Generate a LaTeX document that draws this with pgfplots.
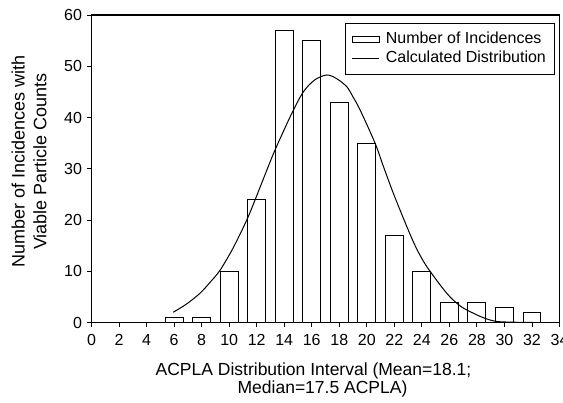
\documentclass[border=0pt]{standalone}
\usepackage{fontspec}
\setmainfont{Liberation Sans}
\usepackage{pgfplots}
\pgfplotsset{compat=1.18}
\begin{document}
\fontsize{16}{20}\selectfont
\begin{tikzpicture}
\begin{axis}[
  scale only axis, width=468pt, height=307.5pt,
  xmin=0, xmax=34, ymin=0, ymax=60,
  xtick={0,2,...,34}, ytick={0,10,...,60},
  tick align=outside, tick pos=left, major tick length=4pt,
  /pgf/number format/assume math mode=true,
  ticklabel style={font=\fontsize{16}{18}\selectfont},
  xticklabel style={yshift=-2pt},
  axis line style={line width=1.1pt},
  tick style={line width=0.9pt, black},
  xlabel={ACPLA Distribution Interval (Mean=18.1;\rule{18pt}{0pt}\\Median=17.5 ACPLA)},
  every axis x label/.style={at={(rel axis cs:0.5,0)}, anchor=north, inner sep=0pt,
    yshift=-40pt, xshift=-3pt, align=center, font=\fontsize{17.5}{18.5}\selectfont},
  ylabel={Number of Incidences with\\Viable Particle Counts},
  every axis y label/.style={at={(rel axis cs:-0.171,0.5236)}, anchor=north, rotate=90,
    inner sep=0pt, align=center, font=\fontsize{18}{21.6}\selectfont},
  legend style={at={(rel axis cs:0.991,0.975)}, anchor=north east, draw=black,
    line width=0.8pt, font=\fontsize{16}{18}\selectfont, inner xsep=7pt, inner ysep=7pt,
    row sep=1pt, column sep=4pt},
  legend cell align=left,
]
\addplot[ybar, bar width=1.3, fill=white, draw=black, line width=1pt,
  legend image code/.code={\draw[black, fill=white, line width=0.8pt] (0pt,-3pt) rectangle (27pt,3pt);}]
  coordinates {(6,1) (8,1) (10,10) (12,24) (14,57) (16,55) (18,43) (20,35)
    (22,17) (24,10) (26,4) (28,4) (30,3) (32,2)};
\addplot[smooth, black, line width=1pt, mark=none,
  legend image code/.code={\draw[black, line width=0.8pt] (0pt,0pt) -- (27pt,0pt);}]
  coordinates {(5.94,2.0) (6.9,3.6) (7.88,5.7) (8.6,7.8) (9.34,10.2) (10.3,14.6)
    (11.28,20.0) (11.88,23.9) (12.6,28.8) (13.34,33.7) (14.55,40.8) (15.39,45.0)
    (16.2,47.3) (17.09,48.3) (17.8,47.6) (18.55,46.0) (19.0,44.0) (19.51,41.5)
    (20.6,35.0) (21.2,30.5) (21.93,25.2) (22.91,18.7) (23.6,14.5) (24.36,10.9)
    (25.81,5.7) (26.8,3.2) (27.75,1.8) (28.6,0.8) (29.45,0.2) (30.8,0.05) (32.1,0)};
\legend{Number of Incidences, Calculated Distribution}
\end{axis}
\pgfresetboundingbox
\path[use as bounding box] ([xshift=-91.5pt,yshift=-79.5pt]current axis.south west)
  rectangle ([xshift=3.5pt,yshift=15pt]current axis.north east);
\end{tikzpicture}
\end{document}
